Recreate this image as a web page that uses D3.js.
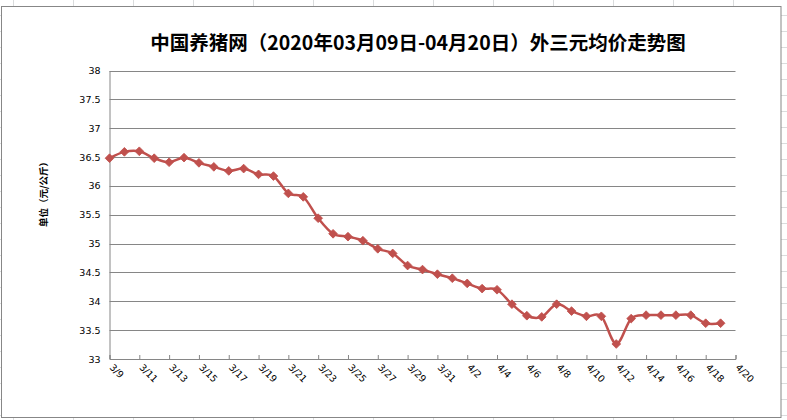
<!DOCTYPE html>
<html><head><meta charset="utf-8">
<script src="https://cdn.jsdelivr.net/npm/d3@7"></script>
<style>html,body{margin:0;padding:0;background:#fff;}svg{display:block;}</style>
</head><body>
<svg id="c" width="787" height="420"></svg>
<script>
const title = "中国养猪网（2020年03月09日-04月20日）外三元均价走势图";
const yTitle = "单位（元/公斤）";
const dates = ["3/9","3/10","3/11","3/12","3/13","3/14","3/15","3/16","3/17","3/18","3/19","3/20","3/21","3/22","3/23","3/24","3/25","3/26","3/27","3/28","3/29","3/30","3/31","4/1","4/2","4/3","4/4","4/5","4/6","4/7","4/8","4/9","4/10","4/11","4/12","4/13","4/14","4/15","4/16","4/17","4/18","4/19"];
const prices = [36.48,36.59,36.60,36.48,36.41,36.49,36.40,36.33,36.26,36.30,36.20,36.17,35.87,35.81,35.44,35.17,35.12,35.05,34.91,34.83,34.62,34.55,34.47,34.40,34.31,34.22,34.20,33.95,33.75,33.73,33.95,33.83,33.74,33.74,33.26,33.70,33.76,33.76,33.76,33.76,33.62,33.62];
const xTickLabels = ["3/9","3/11","3/13","3/15","3/17","3/19","3/21","3/23","3/25","3/27","3/29","3/31","4/2","4/4","4/6","4/8","4/10","4/12","4/14","4/16","4/18","4/20"];
const yTicks = [33,33.5,34,34.5,35,35.5,36,36.5,37,37.5,38];

const parse = s => { const [m,d] = s.split("/").map(Number); return new Date(Date.UTC(2020, m-1, d)); };
const svg = d3.select("#c");

// spreadsheet background grid (margins)
const bg = svg.append("g").attr("stroke","#dadcdd").attr("stroke-width",1);
d3.range(13, 787, 60).forEach(x => {
  bg.append("line").attr("x1",x+0.5).attr("x2",x+0.5).attr("y1",0).attr("y2",6);
  bg.append("line").attr("x1",x+0.5).attr("x2",x+0.5).attr("y1",418).attr("y2",420);
});
d3.range(15, 420, 16).forEach(y => {
  bg.append("line").attr("x1",0).attr("x2",2).attr("y1",y+0.5).attr("y2",y+0.5);
  bg.append("line").attr("x1",781).attr("x2",787).attr("y1",y+0.5).attr("y2",y+0.5);
});

// chart frame
svg.append("rect").attr("x",1.5).attr("y",6.5).attr("width",779.5).attr("height",411)
  .attr("fill","#fff").attr("stroke","#878787").attr("stroke-width",1);

const L = 109.5, R = 735.5, T = 70.5, B = 359;
const x = d3.scaleUtc().domain([parse("3/9"), parse("4/20")]).range([L, R]);
const y = d3.scaleLinear().domain([33, 38]).range([B, T]);

// gridlines
svg.append("g").selectAll("line").data(yTicks.slice(1)).join("line")
  .attr("x1", L).attr("x2", R)
  .attr("y1", d => Math.round(y(d)) + 0.5).attr("y2", d => Math.round(y(d)) + 0.5)
  .attr("stroke", "#868686").attr("stroke-width", 1);

// y axis
const ya = svg.append("g").attr("transform", `translate(${L},0)`)
  .call(d3.axisLeft(y).tickValues(yTicks).tickSize(0).tickPadding(9).tickFormat(d => String(d)));
ya.select(".domain").attr("stroke", "#868686");
ya.selectAll("text").attr("font-family", "DejaVu Sans, sans-serif").attr("font-size", 9.5).attr("fill", "#000");

// x axis
const xa = svg.append("g").attr("transform", `translate(0,${B})`)
  .call(d3.axisBottom(x).tickValues(xTickLabels.map(parse)).tickSize(-4).tickFormat((d, i) => xTickLabels[i]));
xa.select(".domain").attr("stroke", "#868686");
xa.selectAll(".tick line").attr("stroke", "#868686");
xa.selectAll("text")
  .attr("font-family", "DejaVu Sans, sans-serif").attr("font-size", 9.5).attr("fill", "#000")
  .attr("text-anchor", "start").attr("x", 0).attr("y", 0).attr("dy", 0)
  .attr("transform", "translate(-1,9) rotate(45)");

// line
const pts = dates.map((d, i) => [x(parse(d)), y(prices[i])]);
svg.append("path").datum(pts)
  .attr("d", d3.line().curve(d3.curveCatmullRom.alpha(0)))
  .attr("fill", "none").attr("stroke", "#C0504D").attr("stroke-width", 2.5).attr("stroke-linejoin", "round");
svg.append("g").selectAll("path").data(pts).join("path")
  .attr("d", d3.symbol(d3.symbolSquare, 38)())
  .attr("transform", d => `translate(${d[0]},${d[1]}) rotate(45)`)
  .attr("fill", "#C0504D").attr("stroke", "#C0504D").attr("stroke-width", 0.8);

// title
svg.append("text").attr("x", 418).attr("y", 50).attr("text-anchor", "middle")
  .attr("font-family", "Noto Sans CJK SC, sans-serif").attr("font-weight", "bold").attr("font-size", 19.5)
  .attr("fill", "#000").text(title);

// y title
svg.append("text").attr("transform", "translate(47,192) rotate(-90)").attr("text-anchor", "middle")
  .attr("font-family", "Noto Sans CJK SC, sans-serif").attr("font-weight", "bold").attr("font-size", 9.5)
  .attr("fill", "#000").text(yTitle);
</script>
</body></html>
